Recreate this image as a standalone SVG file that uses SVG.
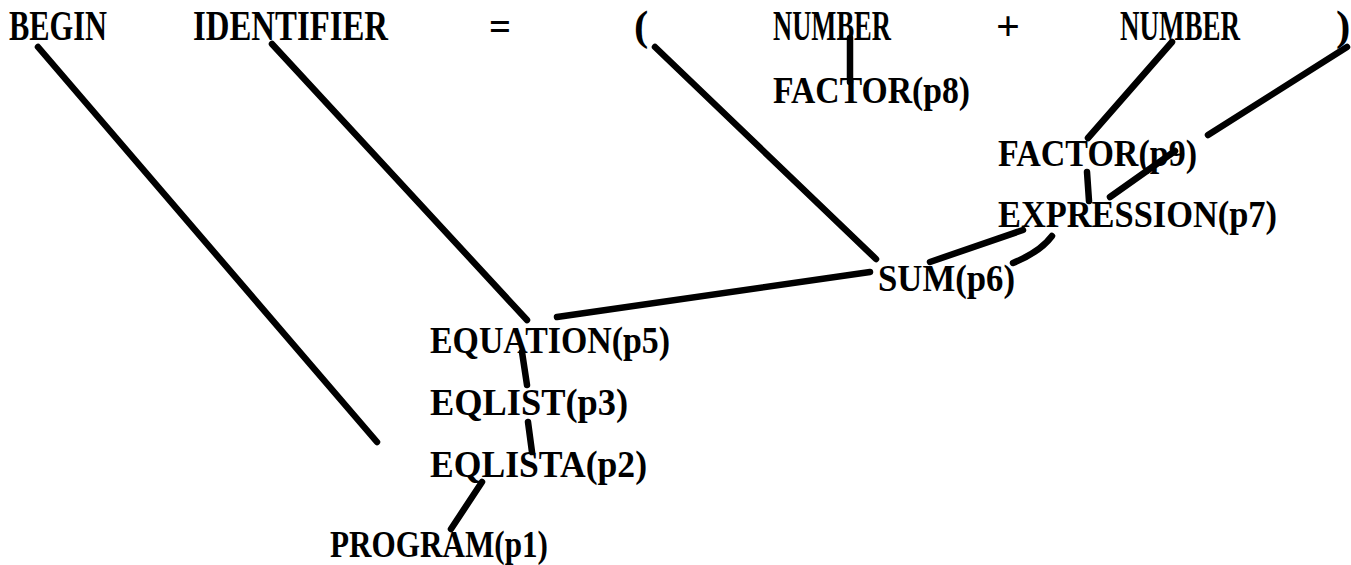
<svg xmlns="http://www.w3.org/2000/svg" width="1351" height="565" viewBox="0 0 1351 565">
<style>
text{font-family:"Liberation Serif","DejaVu Serif",serif;font-weight:bold;fill:#000}
.t{font-size:43px}
.n{font-size:38px}
.c line,.c path{stroke:#000;stroke-width:6.5;stroke-linecap:round;fill:none}
</style>
<rect width="1351" height="565" fill="#fff"/>
<g class="c" id="connectors">
<line x1="38" y1="47" x2="377" y2="442"/>
<line x1="272" y1="44" x2="527" y2="320"/>
<line x1="655" y1="47" x2="876" y2="259"/>
<line x1="850" y1="38" x2="850" y2="82"/>
<line x1="1172" y1="42" x2="1088" y2="138"/>
<line x1="1347" y1="47" x2="1208" y2="135"/>
<line x1="1175" y1="151" x2="1110" y2="197"/>
<line x1="1087" y1="172" x2="1089" y2="201"/>
<line x1="930" y1="262" x2="1023" y2="230"/>
<path d="M1013,263 Q1040,252 1052,236"/>
<line x1="870" y1="272" x2="557" y2="317"/>
<line x1="522" y1="352" x2="527" y2="385"/>
<line x1="528" y1="422" x2="532" y2="452"/>
<line x1="482" y1="482" x2="451" y2="529"/>
</g>
<g id="begin"><text class="t" x="9" y="40" textLength="98" lengthAdjust="spacingAndGlyphs">BEGIN</text></g>
<g id="identifier"><text class="t" x="193" y="40" textLength="195" lengthAdjust="spacingAndGlyphs">IDENTIFIER</text></g>
<g id="equals"><text class="t" x="489" y="40" textLength="22" lengthAdjust="spacingAndGlyphs">=</text></g>
<g id="lparen"><text class="t" x="634" y="40">(</text></g>
<g id="number1"><text class="t" x="773" y="40" textLength="118" lengthAdjust="spacingAndGlyphs">NUMBER</text></g>
<g id="plus"><text class="t" x="996" y="40" textLength="24" lengthAdjust="spacingAndGlyphs">+</text></g>
<g id="number2"><text class="t" x="1120" y="40" textLength="120" lengthAdjust="spacingAndGlyphs">NUMBER</text></g>
<g id="rparen"><text class="t" x="1336" y="40">)</text></g>
<g id="factor-p8"><text class="n" x="773" y="103" textLength="197" lengthAdjust="spacingAndGlyphs">FACTOR(p8)</text></g>
<g id="factor-p9"><text class="n" x="998" y="166" textLength="199" lengthAdjust="spacingAndGlyphs">FACTOR(p9)</text></g>
<g id="expression-p7"><text class="n" x="998" y="227" textLength="279" lengthAdjust="spacingAndGlyphs">EXPRESSION(p7)</text></g>
<g id="sum-p6"><text class="n" x="878" y="291" textLength="137" lengthAdjust="spacingAndGlyphs">SUM(p6)</text></g>
<g id="equation-p5"><text class="n" x="430" y="353" textLength="240" lengthAdjust="spacingAndGlyphs">EQUATION(p5)</text></g>
<g id="eqlist-p3"><text class="n" x="430" y="415" textLength="198" lengthAdjust="spacingAndGlyphs">EQLIST(p3)</text></g>
<g id="eqlista-p2"><text class="n" x="430" y="477" textLength="217" lengthAdjust="spacingAndGlyphs">EQLISTA(p2)</text></g>
<g id="program-p1"><text class="n" x="330" y="557" textLength="218" lengthAdjust="spacingAndGlyphs">PROGRAM(p1)</text></g>
</svg>
